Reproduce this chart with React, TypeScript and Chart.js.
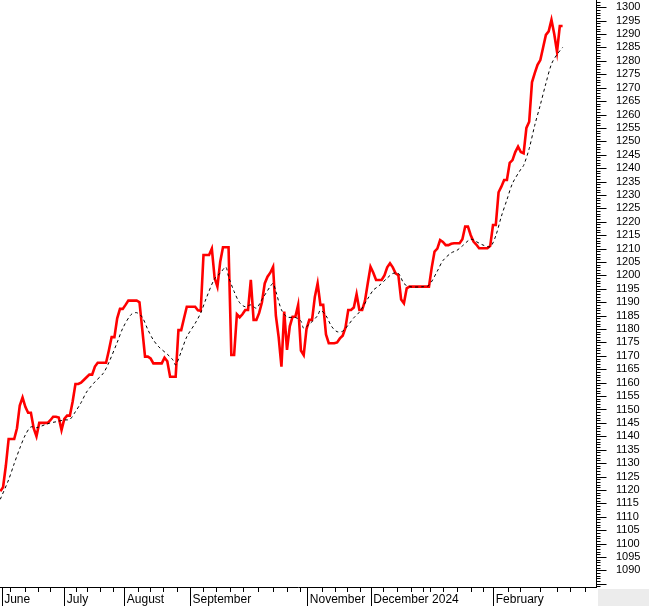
import React, { useEffect, useRef } from 'react';
import { Chart, registerables } from 'chart.js';

Chart.register(...registerables);

// Daily closing values (trading-day index = array index)
const closeValues = [
  1119.5, 1121, 1129, 1139, 1139, 1139, 1143, 1151.5, 1154.5, 1151,
  1148.8, 1148.8, 1143, 1140, 1145, 1145, 1145, 1145, 1146, 1147.3,
  1147.3, 1147, 1142.3, 1146.5, 1147.7, 1147.7, 1153, 1159.5, 1159.5, 1160,
  1161, 1162, 1163, 1163, 1166, 1167.4, 1167.4, 1167.4, 1167.4, 1172,
  1177, 1177, 1184, 1187.5, 1187.5, 1189, 1190.6, 1190.6, 1190.6, 1190.6,
  1190, 1180, 1169.7, 1169.7, 1169, 1167.2, 1167.2, 1167.2, 1167.2, 1169.3,
  1168, 1162.2, 1162.2, 1162.2, 1179.6, 1179.6, 1184, 1188.3, 1188.3, 1188.3,
  1188.3, 1187, 1186.8, 1207.6, 1207.6, 1207.6, 1210, 1199, 1195.8, 1205,
  1210.5, 1210.5, 1210.5, 1170.3, 1170.3, 1185.5, 1184.4, 1185.5, 1187.1, 1187.1,
  1198.3, 1183.4, 1183.4, 1186, 1190, 1197, 1199.5, 1201, 1203.2, 1185,
  1177, 1166, 1186.5, 1172.2, 1181, 1184.6, 1184.6, 1189, 1172, 1170.3,
  1180, 1183.4, 1183.4, 1192, 1197, 1189, 1189, 1178, 1174.7, 1174.7,
  1174.7, 1175, 1176.5, 1177.5, 1180.5, 1187.1, 1187.1, 1188, 1193, 1187.1,
  1187.1, 1190.5, 1197, 1203.2, 1201, 1198.3, 1198.3, 1198.3, 1200, 1203,
  1204.5, 1203, 1200.8, 1200.1, 1191, 1189.6, 1195.2, 1195.8, 1195.8, 1195.8,
  1195.8, 1195.8, 1195.8, 1195.8, 1195.8, 1203, 1208.9, 1210, 1213.2, 1212.5,
  1211.3, 1211.3, 1211.8, 1212, 1212, 1212, 1213.5, 1218.2, 1218.2, 1215,
  1212.6, 1211.5, 1210.1, 1210.1, 1210.1, 1210.1, 1211, 1218.8, 1218.8, 1231,
  1233.1, 1235.6, 1235.6, 1242, 1243, 1246, 1248, 1246, 1245.5, 1255,
  1257.3, 1272, 1275.4, 1278.5, 1280.3, 1285, 1289.7, 1291, 1295.3, 1290,
  1283.4, 1293, 1293,
];

// Moving average (dashed), read at these trading days
const maDays = [
  0, 3, 5, 7, 9, 11, 13, 16, 18, 20, 23, 25, 27, 29, 31, 34, 37, 39, 42, 44,
  47, 49, 51, 53, 55, 57, 60, 62, 63, 65, 67, 70, 72, 74, 77, 79, 81, 82, 84, 86,
  88, 90, 92, 94, 97, 98, 99, 101, 103, 106, 108, 109, 111, 114, 115, 117, 119, 121, 123, 125,
  127, 129, 132, 134, 136, 139, 141, 143, 145, 147, 152, 154, 157, 159, 162, 164, 166, 169, 171, 173,
  176, 178, 180, 182, 184, 187, 188, 190, 192, 194, 196, 198, 200, 202,
];
const maValues = [
  1116.5, 1123.8, 1129.8, 1135.5, 1140.5, 1143.5, 1143.2, 1144.3, 1145, 1145.4, 1146.1, 1146.3, 1149.2, 1152.5, 1156.5, 1160.3, 1163.5, 1167.5, 1175, 1180.3,
  1185.4, 1186.1, 1184.4, 1179.8, 1175.9, 1173.3, 1170.6, 1168.5, 1166.6, 1171.6, 1177.1, 1182.1, 1186, 1191.5, 1198.8, 1200.8, 1203.1, 1199.5, 1194, 1189.8,
  1188.3, 1189, 1187.8, 1191, 1195.9, 1197, 1194, 1187.2, 1184.5, 1184.3, 1183, 1180.3, 1181.8, 1185, 1187, 1185, 1181, 1179, 1179.2, 1181.5,
  1184.2, 1186.3, 1191.3, 1194.5, 1196.1, 1199, 1200.7, 1200.8, 1197, 1195.8, 1195.8, 1196.3, 1201.6, 1205.5, 1208.4, 1209.3, 1211, 1213.5, 1212.6, 1211.5,
  1210.7, 1214.8, 1222, 1228.2, 1234.3, 1239.6, 1241, 1247.3, 1256, 1263.6, 1271.6, 1278.8, 1282.4, 1285,
];

// X axis: month labels at trading-day positions
const monthLabels = ['June', 'July', 'August', 'September', 'November', 'December', '2024', 'February'];
const monthPositions = [0.5, 23.0, 44.55, 68.15, 110.3, 133.07, 154.2, 177.1];
const monthSeparator = [true, true, true, true, true, true, false, true];
const weekTickPositions = [
  3.5, 8.9, 13.6, 17.9, 27.2, 31.2, 35.8, 40.5, 49.5, 53.8, 58.5, 63.5, 72.8, 77.5, 82.5, 87.2,
  92.6, 98.0, 103.0, 107.7, 115.6, 120.2, 124.6, 129.2, 137.5, 142.5, 147.5, 151.9, 154.4, 159.0,
  164.1, 169.1, 173.4, 182.4, 186.7, 193.9, 200.0, 204.7, 210.1,
];

const X_MIN = -0.1;
const X_MAX = 214.0;
const Y_MIN = 1083.8;
const Y_MAX = 1302.7;
const Y_LABEL_FIRST = 1090;
const Y_LABEL_LAST = 1300;
const Y_LABEL_STEP = 5;

const FONT = '"Liberation Sans", Arial, sans-serif';

const axisDecor = {
  id: 'axisDecor',
  afterDraw(chart: any) {
    const { ctx, chartArea: ca, scales } = chart;
    const x = scales.x;
    const y = scales.y;
    ctx.save();
    ctx.fillStyle = '#ececec';
    ctx.fillRect(ca.right + 2, ca.bottom + 2, chart.width - ca.right - 2, chart.height - ca.bottom - 2);
    ctx.strokeStyle = '#000';
    ctx.lineWidth = 1;
    ctx.beginPath();
    ctx.moveTo(ca.left, ca.bottom + 0.5);
    ctx.lineTo(ca.right + 1, ca.bottom + 0.5);
    ctx.moveTo(ca.right + 0.5, ca.top);
    ctx.lineTo(ca.right + 0.5, ca.bottom + 1);
    for (let v = Math.ceil(Y_MIN); v <= Y_MAX; v++) {
      const py = Math.round(y.getPixelForValue(v)) + 0.5;
      const len = v % Y_LABEL_STEP === 0 ? 10 : 4;
      ctx.moveTo(ca.right + 0.5, py);
      ctx.lineTo(ca.right + 0.5 + len, py);
    }
    weekTickPositions.forEach((d) => {
      const px = Math.round(x.getPixelForValue(d)) + 0.5;
      ctx.moveTo(px, ca.bottom);
      ctx.lineTo(px, ca.bottom + 5);
    });
    monthPositions.forEach((d, i) => {
      if (!monthSeparator[i]) return;
      const px = Math.round(x.getPixelForValue(d)) + 0.5;
      ctx.moveTo(px, ca.bottom);
      ctx.lineTo(px, chart.height);
    });
    ctx.stroke();
    ctx.restore();
  },
};

export default function App() {
  const canvasRef = useRef<HTMLCanvasElement | null>(null);

  useEffect(() => {
    const canvas = canvasRef.current;
    if (!canvas) return;
    const chart = new Chart(canvas, {
      type: 'line',
      data: {
        datasets: [
          {
            label: 'Average',
            data: maDays.map((d, i) => ({ x: d, y: maValues[i] })),
            borderColor: '#000000',
            borderWidth: 1,
            borderDash: [3, 3],
            pointRadius: 0,
            tension: 0.3,
            fill: false,
          },
          {
            label: 'Close',
            data: closeValues.map((v, i) => ({ x: i, y: v })),
            borderColor: '#ff0000',
            borderWidth: 2.6,
            pointRadius: 0,
            tension: 0,
            fill: false,
          },
        ],
      },
      options: {
        animation: false,
        responsive: false,
        maintainAspectRatio: false,
        layout: { padding: 0 },
        plugins: {
          legend: { display: false },
          tooltip: { enabled: false },
          title: { display: false },
        },
        scales: {
          x: {
            type: 'linear',
            position: 'bottom',
            min: X_MIN,
            max: X_MAX,
            grid: { display: false, drawTicks: false },
            border: { display: false },
            afterBuildTicks: (scale: any) => {
              scale.ticks = monthPositions.map((v) => ({ value: v }));
            },
            afterFit: (scale: any) => {
              scale.height = 19;
              scale.paddingLeft = 0;
              scale.paddingRight = 0;
              scale.paddingTop = 0;
              scale.paddingBottom = 0;
            },
            ticks: {
              autoSkip: false,
              maxRotation: 0,
              minRotation: 0,
              align: 'start',
              labelOffset: 2.5,
              padding: 5,
              color: '#000',
              font: { family: FONT, size: 12 },
              callback: (_v: any, index: number) => monthLabels[index],
            },
          },
          y: {
            type: 'linear',
            position: 'right',
            min: Y_MIN,
            max: Y_MAX,
            grid: { display: false, drawTicks: false },
            border: { display: false },
            afterBuildTicks: (scale: any) => {
              const t: any[] = [];
              for (let v = Y_LABEL_FIRST; v <= Y_LABEL_LAST; v += Y_LABEL_STEP) t.push({ value: v });
              scale.ticks = t;
            },
            afterFit: (scale: any) => {
              scale.width = 53;
              scale.paddingTop = 0;
              scale.paddingBottom = 0;
              scale.paddingLeft = 0;
              scale.paddingRight = 0;
            },
            ticks: {
              autoSkip: false,
              padding: 20,
              color: '#000',
              font: { family: FONT, size: 11 },
              callback: (v: any) => String(v),
            },
          },
        },
      },
      plugins: [axisDecor],
    });
    return () => chart.destroy();
  }, []);

  return (
    <div style={{ position: 'absolute', left: 0, top: 0, width: 649, height: 606, background: '#ffffff' }}>
      <canvas ref={canvasRef} width={649} height={606} style={{ display: 'block' }} />
    </div>
  );
}
